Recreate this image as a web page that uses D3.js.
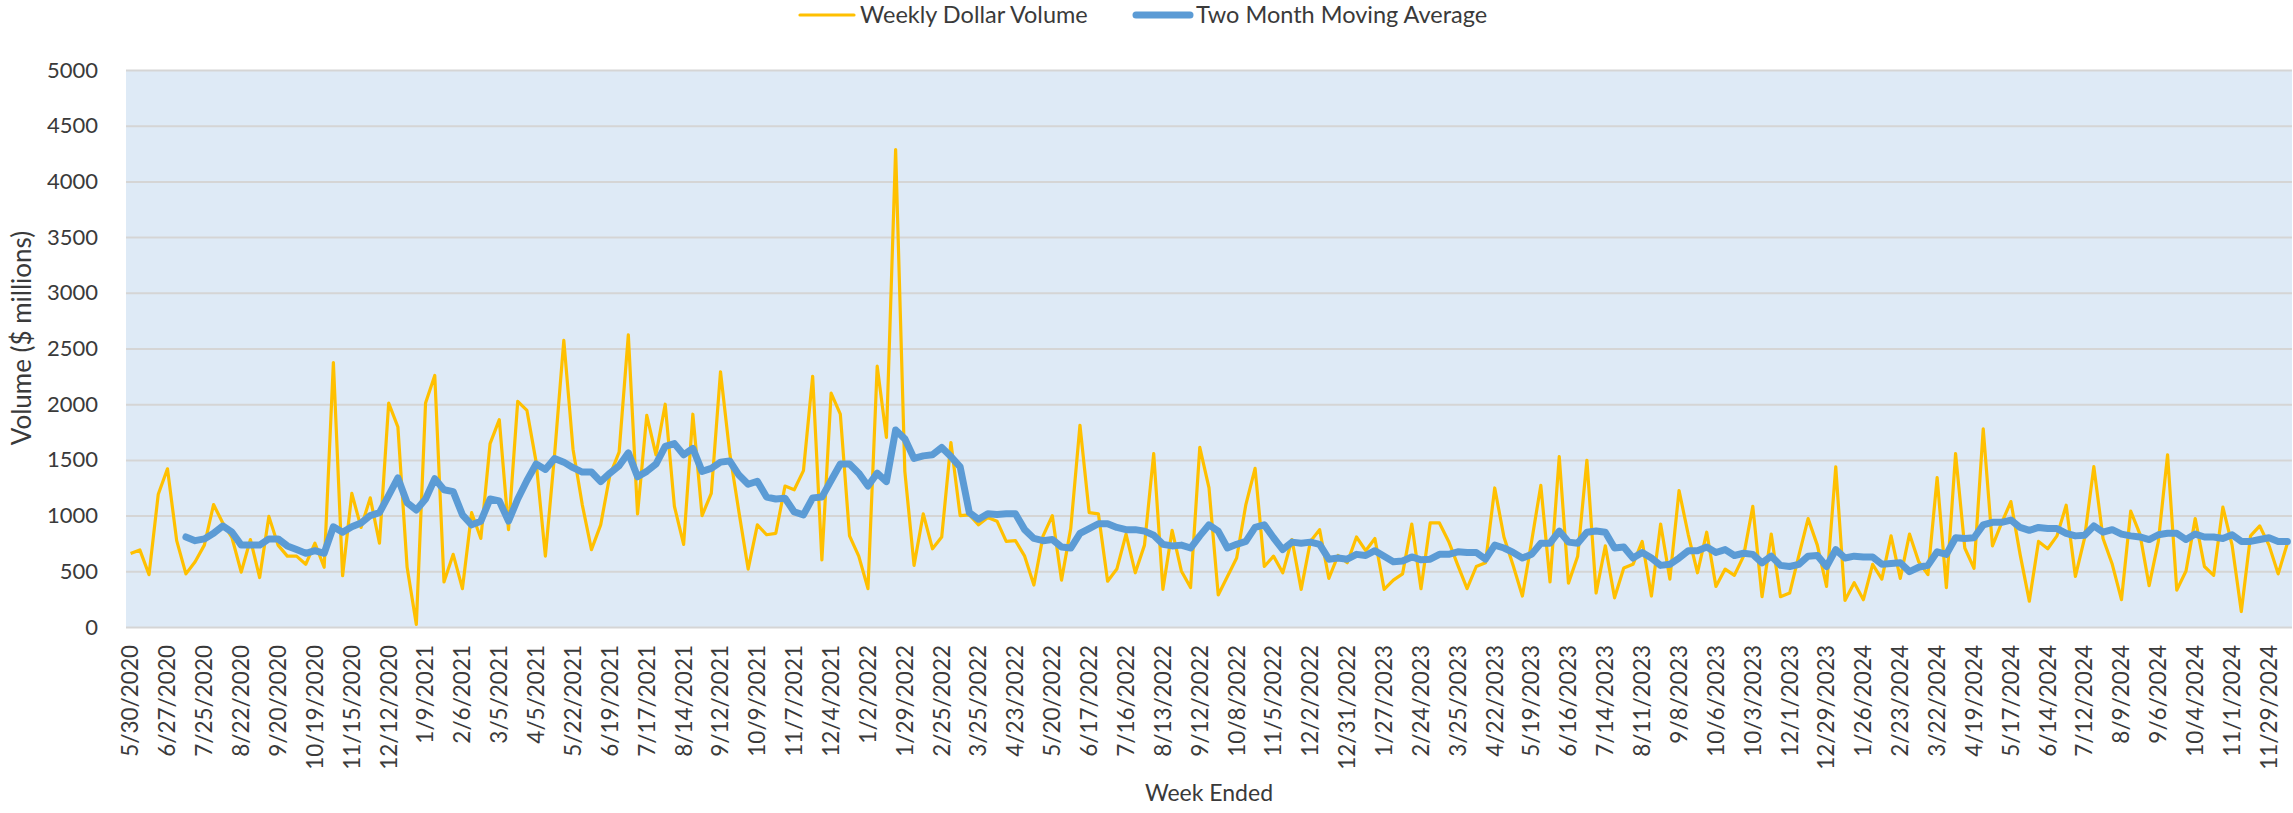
<!DOCTYPE html>
<meta charset="utf-8">
<style>
  body { margin: 0; background: #fff; }
  text { font-family: Lato, "Open Sans", sans-serif; fill: #3a3a3a; }
</style>
<body>
<script src="https://d3js.org/d3.v7.min.js"></script>
<script>
// weekly dollar volume ($ millions), one value per week
var weekly = [
  659, 692, 470, 1192, 1420, 775, 477, 586, 735, 1099, 934, 801, 493, 785, 444, 993, 735, 636, 636, 563, 752, 536, 2374, 460, 1199, 894, 1159, 752, 2010, 1795,
  536, 23, 2010, 2258, 404, 652, 344, 1026, 795, 1646, 1861, 874, 2026, 1944, 1480, 636, 1550, 2573, 1596, 1099, 695, 917, 1364, 1569, 2622, 1016, 1900, 1546, 2000,
  1083, 742, 1910, 1000, 1199, 2291, 1563, 1033, 520, 917, 828, 841, 1265, 1232, 1404, 2251, 603, 2099, 1910, 818, 636, 344, 2341, 1702, 4285, 1397, 553, 1016, 702,
  808, 1656, 1000, 1007, 917, 983, 950, 768, 775, 636, 377, 818, 1000, 421, 884, 1811, 1026, 1016, 411, 520, 834, 487, 735, 1556, 338, 868, 503, 354, 1612, 1248,
  288, 454, 619, 1099, 1424, 543, 636, 487, 785, 338, 768, 874, 437, 642, 576, 808, 685, 795, 338, 421, 477, 924, 344, 934, 934, 768, 553, 344, 543,
  576, 1248, 808, 553, 278, 768, 1271, 404, 1530, 394, 636, 1497, 305, 728, 262, 530, 563, 768, 278, 924, 430, 1225, 828, 487, 851, 364, 520, 464, 636,
  1083, 272, 834, 272, 305, 642, 973, 735, 364, 1437, 238, 397, 245, 563, 430, 818, 437, 834, 586, 470, 1341, 354, 1556, 709, 526, 1778, 728, 934, 1126,
  652, 232, 768, 702, 818, 1093, 454, 801, 1440, 795, 563, 245, 1040, 834, 371, 768, 1546, 331, 503, 973, 543, 464, 1076, 735, 139, 818, 907, 735, 477, 752
];

// two month moving average, starts at the 7th week
var movingAvg = [
  null, null, null, null, null, null,
  808, 775, 791, 841, 907, 851, 735, 735, 735, 791, 791, 728, 695, 662, 685, 662, 900, 851, 900, 934, 1000, 1026, 1182, 1338,
  1116, 1050, 1149, 1331, 1232, 1215, 1007, 917, 950, 1149, 1132, 950, 1149, 1315, 1463, 1414, 1513, 1480, 1430, 1391, 1391, 1305, 1381, 1447, 1563, 1348, 1397, 1463, 1622,
  1646, 1546, 1603, 1397, 1424, 1480, 1490, 1364, 1281, 1308, 1166, 1149, 1156, 1033, 1007, 1159, 1166, 1315, 1463, 1463, 1381, 1265, 1381, 1305, 1768, 1689, 1513, 1536, 1546,
  1612, 1530, 1437, 1026, 967, 1016, 1010, 1016, 1016, 874, 795, 775, 785, 718, 709, 841, 884, 927, 927, 894, 874, 874, 861, 824, 742, 728, 735, 709, 818, 917,
  861, 709, 742, 768, 894, 917, 801, 695, 762, 752, 762, 742, 609, 619, 609, 652, 642, 685, 636, 586, 593, 629, 603, 609, 652, 652, 675, 669, 669,
  609, 735, 709, 669, 619, 652, 752, 752, 861, 762, 752, 851, 861, 851, 709, 718, 619, 669, 619, 553, 563, 619, 685, 685, 718, 669, 695, 642, 662,
  652, 576, 636, 553, 543, 563, 636, 642, 543, 695, 619, 636, 629, 629, 563, 570, 576, 497, 536, 553, 675, 652, 801, 795, 801, 917, 940, 940, 960,
  894, 868, 894, 884, 884, 841, 818, 824, 907, 851, 874, 834, 818, 808, 785, 828, 841, 841, 785, 834, 808, 808, 795, 828, 768, 768, 785, 801, 768, 768
];

// category labels shown under the axis (every 4th week)
var tickLabels = [
  "5/30/2020", "6/27/2020", "7/25/2020", "8/22/2020", "9/20/2020", "10/19/2020", "11/15/2020", "12/12/2020",
  "1/9/2021", "2/6/2021", "3/5/2021", "4/5/2021", "5/22/2021", "6/19/2021", "7/17/2021", "8/14/2021",
  "9/12/2021", "10/9/2021", "11/7/2021", "12/4/2021",
  "1/2/2022", "1/29/2022", "2/25/2022", "3/25/2022", "4/23/2022", "5/20/2022", "6/17/2022", "7/16/2022",
  "8/13/2022", "9/12/2022", "10/8/2022", "11/5/2022", "12/2/2022", "12/31/2022",
  "1/27/2023", "2/24/2023", "3/25/2023", "4/22/2023", "5/19/2023", "6/16/2023", "7/14/2023", "8/11/2023",
  "9/8/2023", "10/6/2023", "10/3/2023", "12/1/2023", "12/29/2023",
  "1/26/2024", "2/23/2024", "3/22/2024", "4/19/2024", "5/17/2024", "6/14/2024", "7/12/2024", "8/9/2024",
  "9/6/2024", "10/4/2024", "11/1/2024", "11/29/2024"
];
var tickEvery = 4;
var yTicks = d3.range(0, 5001, 500);

var W = 2293, H = 813,
    margin = {top: 70, right: 1, bottom: 186, left: 126},
    width = W - margin.left - margin.right,
    height = H - margin.top - margin.bottom;

var x = d3.scaleBand().domain(d3.range(weekly.length)).range([0, width]),
    y = d3.scaleLinear().domain([0, 5000]).range([height, 0]);

function cx(i) { return x(i) + x.bandwidth() / 2; }

var svg = d3.select("body").append("svg")
    .attr("width", W)
    .attr("height", H);

var g = svg.append("g")
    .attr("transform", "translate(" + margin.left + "," + margin.top + ")");

// plot background
g.append("rect")
  .attr("width", width)
  .attr("height", height)
  .attr("fill", "#deeaf6");

// y axis + gridlines
var yAxis = g.append("g")
  .call(d3.axisLeft(y).tickValues(yTicks).tickFormat(d3.format("d")).tickSize(-width).tickPadding(28));
yAxis.select(".domain").remove();
yAxis.selectAll("line").attr("stroke", "#d5d5d5").attr("stroke-width", 2);
yAxis.selectAll("text").style("font-size", "22px").attr("fill", "#3a3a3a");

// x axis, labels rotated
var xAxis = g.append("g")
  .attr("transform", "translate(0," + height + ")")
  .call(d3.axisBottom(x)
    .tickValues(d3.range(0, weekly.length, tickEvery).filter(function(i) { return i / tickEvery < tickLabels.length; }))
    .tickFormat(function(i) { return tickLabels[i / tickEvery]; })
    .tickSize(0));
xAxis.select(".domain").remove();
xAxis.selectAll("text")
  .attr("x", -18)
  .attr("y", 0)
  .attr("dy", "0.35em")
  .attr("transform", "rotate(-90)")
  .style("text-anchor", "end")
  .style("font-size", "22.5px")
  .attr("fill", "#3a3a3a");

// lines
var line = d3.line()
  .defined(function(d) { return d != null; })
  .x(function(d, i) { return cx(i); })
  .y(function(d) { return y(d); });

g.append("path")
  .datum(weekly)
  .attr("fill", "none")
  .attr("stroke", "#ffc000")
  .attr("stroke-width", 3.2)
  .attr("stroke-linejoin", "round")
  .attr("d", line);

g.append("path")
  .datum(movingAvg)
  .attr("fill", "none")
  .attr("stroke", "#5b9bd5")
  .attr("stroke-width", 7)
  .attr("stroke-linejoin", "round")
  .attr("stroke-linecap", "round")
  .attr("d", line);

// axis titles
svg.append("text")
  .attr("transform", "translate(22,338) rotate(-90)")
  .attr("text-anchor", "middle")
  .attr("dy", "0.35em")
  .style("font-size", "26px")
  .text("Volume ($ millions)");

svg.append("text")
  .attr("x", margin.left + width / 2)
  .attr("y", 801)
  .attr("text-anchor", "middle")
  .style("font-size", "23px")
  .text("Week Ended");

// legend
var legend = [
  {name: "Weekly Dollar Volume", color: "#ffc000", w: 3.2, x: 800},
  {name: "Two Month Moving Average", color: "#5b9bd5", w: 7, x: 1136}
];
var lg = svg.selectAll(".legend").data(legend).enter().append("g")
  .attr("class", "legend")
  .attr("transform", function(d) { return "translate(" + d.x + ",15)"; });
lg.append("line")
  .attr("x1", 0).attr("x2", 54)
  .attr("stroke", function(d) { return d.color; })
  .attr("stroke-width", function(d) { return d.w; })
  .attr("stroke-linecap", "round");
lg.append("text")
  .attr("x", 60)
  .attr("dy", "0.35em")
  .style("font-size", "23.5px")
  .text(function(d) { return d.name; });
</script>
</body>
